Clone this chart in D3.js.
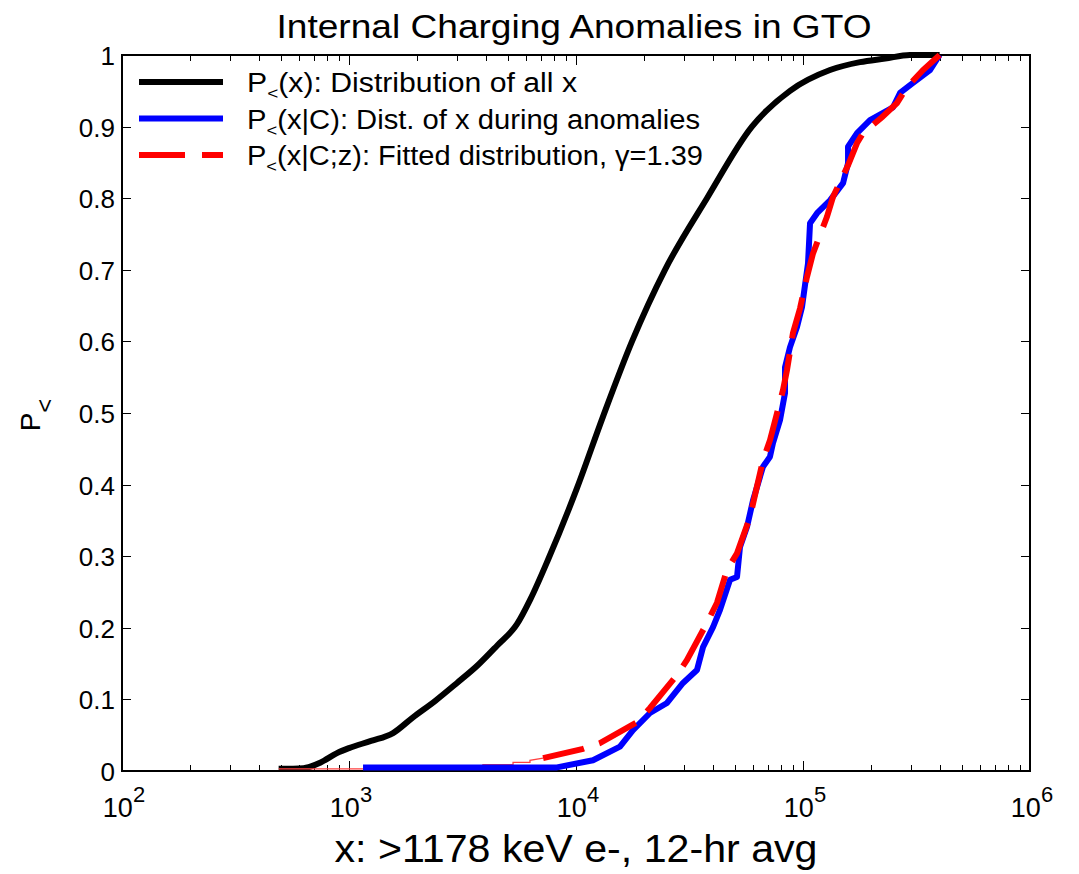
<!DOCTYPE html>
<html lang="en">
<head>
<meta charset="UTF-8">
<title>Internal Charging Anomalies in GTO</title>
<script src="https://d3js.org/d3.v7.min.js"></script>
<style>
    body{
        margin: 0;
        background: #fff;
        font-family: Arial, "Liberation Sans", sans-serif;
    }
    svg{
        display: block;
    }
</style>
</head>
<body>
<svg></svg>
<script>
    // P<(x): distribution of all x
    const allX = [490, 630, 750, 885, 1000, 1250, 1563, 1914, 2400, 2992, 3700, 4487, 5495, 6300, 7530, 10100,
        13150, 17650, 24660, 37760, 59570, 87650, 131500, 178200, 230000, 295800, 400000];
    const allP = [0.003, 0.004, 0.012, 0.025, 0.032, 0.042, 0.053, 0.075, 0.098, 0.123, 0.148, 0.175, 0.205, 0.24, 0.295, 0.395,
        0.495, 0.6, 0.7, 0.8, 0.9, 0.95, 0.979, 0.99, 0.995, 1.0, 1.0];

    // P<(x|C): distribution during anomalies (blue)
    const anomX = [1153, 8247, 11880, 15620, 17830, 21180, 25180, 29610, 34120, 36270, 40140, 43100, 47690, 51200,
        52780, 56680, 60220, 66650, 71540, 73740, 79190, 83330, 83330, 87650, 94100, 99000, 105200, 107400, 115300,
        131500, 150100, 157900, 157900, 173000, 197300, 249200, 267500, 305200, 362600, 400000];
    const anomP = [0.005, 0.005, 0.015, 0.034, 0.057, 0.081, 0.095, 0.123, 0.141, 0.173, 0.201, 0.225, 0.267, 0.271,
        0.313, 0.341, 0.378, 0.425, 0.439, 0.458, 0.49, 0.528, 0.564, 0.592, 0.62, 0.648, 0.709, 0.765, 0.779,
        0.797, 0.821, 0.849, 0.872, 0.891, 0.909, 0.927, 0.947, 0.961, 0.979, 1.0];

    // P<(x|C;z): fitted distribution (red dashed), plus its thin low tail
    const fitX = [7161, 10740, 12760, 18560, 21180, 27860, 30830, 37770, 41800, 46270, 51200, 58420, 66650, 71540,
        81640, 85020, 90340, 97000, 104100, 110700, 127500, 135600, 157900, 173000, 183800, 222800, 259500, 287200,
        337800, 400000];
    const fitP = [0.018, 0.031, 0.039, 0.068, 0.088, 0.134, 0.155, 0.207, 0.235, 0.281, 0.304, 0.355, 0.434, 0.462,
        0.532, 0.56, 0.612, 0.646, 0.69, 0.723, 0.774, 0.802, 0.846, 0.877, 0.891, 0.913, 0.933, 0.955, 0.979, 1.0];
    const lowX = [490, 2390, 2390, 3890, 3890, 5280, 5280, 6270, 6270, 7161];
    const lowP = [0.003, 0.003, 0.006, 0.006, 0.009, 0.009, 0.012, 0.012, 0.015, 0.018];

    const xDecades = [1e2, 1e3, 1e4, 1e5, 1e6];
    const xDecadeExp = ['2', '3', '4', '5', '6'];
    const yTicks = [0, 0.1, 0.2, 0.3, 0.4, 0.5, 0.6, 0.7, 0.8, 0.9, 1];
    const yTickLabels = ['0', '0.1', '0.2', '0.3', '0.4', '0.5', '0.6', '0.7', '0.8', '0.9', '1'];

    const legendLabels = [
        ['(x): Distribution of all x'],
        ['(x|C): Dist. of x during anomalies'],
        ['(x|C;z): Fitted distribution, ', 'γ', '=1.39']
    ];

    const width = 1079, height = 874;
    const margin = {top: 55, right: 49, bottom: 103, left: 122};

    const svg = d3.select('svg')
        .attr('width', width)
        .attr('height', height);

    const x = d3.scaleLog().domain([1e2, 1e6]).range([margin.left, width - margin.right]);
    const y = d3.scaleLinear().domain([0, 1]).range([height - margin.bottom, margin.top]);

    /* minor ticks 2..9 in each decade */
    const xMinor = [];
    xDecades.slice(0, -1).forEach(d => {
        for(let m = 2; m <= 9; m++) xMinor.push(d * m);
    });

    function tickAxis(axis, g){
        g.call(axis);
        g.select('.domain').remove();
        g.selectAll('.tick line').attr('stroke', '#000').attr('shape-rendering', 'crispEdges');
        g.selectAll('.tick text').remove();
    }

    const bottomY = height - margin.bottom;
    const rightX = width - margin.right;

    /* ticks on all four sides, pointing in */
    tickAxis(d3.axisBottom(x).tickValues(xMinor).tickSize(-6), svg.append('g').attr('transform', `translate(0,${bottomY})`));
    tickAxis(d3.axisBottom(x).tickValues(xDecades).tickSize(-10), svg.append('g').attr('transform', `translate(0,${bottomY})`));
    tickAxis(d3.axisTop(x).tickValues(xMinor).tickSize(-6), svg.append('g').attr('transform', `translate(0,${margin.top})`));
    tickAxis(d3.axisTop(x).tickValues(xDecades).tickSize(-10), svg.append('g').attr('transform', `translate(0,${margin.top})`));
    tickAxis(d3.axisLeft(y).tickValues(yTicks).tickSize(-9), svg.append('g').attr('transform', `translate(${margin.left},0)`));
    tickAxis(d3.axisRight(y).tickValues(yTicks).tickSize(-9), svg.append('g').attr('transform', `translate(${rightX},0)`));

    svg.append('rect')
        .attr('x', margin.left).attr('y', margin.top)
        .attr('width', rightX - margin.left).attr('height', bottomY - margin.top)
        .attr('fill', 'none').attr('stroke', '#000').attr('stroke-width', 1.2)
        .attr('shape-rendering', 'crispEdges');

    /* y tick labels */
    svg.append('g').selectAll('text')
        .data(yTicks)
        .join('text')
        .attr('x', margin.left - 7)
        .attr('y', d => y(d) + 10)
        .attr('text-anchor', 'end')
        .attr('font-size', 26)
        .text((d, i) => yTickLabels[i]);

    /* x tick labels: 10^n */
    const xl = svg.append('g').selectAll('text')
        .data(xDecades)
        .join('text')
        .attr('x', d => x(d) + 2)
        .attr('y', bottomY + 46)
        .attr('text-anchor', 'middle')
        .attr('font-size', 27);
    xl.append('tspan').text('10');
    xl.append('tspan').attr('dy', -15).attr('font-size', 22).text((d, i) => xDecadeExp[i]);

    /* curves */
    const line = d3.line().x(d => x(d[0])).y(d => y(d[1]));

    svg.append('path')
        .datum(d3.zip(allX, allP))
        .attr('d', line.curve(d3.curveMonotoneX))
        .attr('fill', 'none').attr('stroke', '#000').attr('stroke-width', 6);

    svg.append('path')
        .datum(d3.zip(lowX, lowP))
        .attr('d', line.curve(d3.curveLinear))
        .attr('fill', 'none').attr('stroke', '#ff4040').attr('stroke-width', 1.3);

    svg.append('path')
        .datum(d3.zip(anomX, anomP))
        .attr('d', line.curve(d3.curveLinear))
        .attr('fill', 'none').attr('stroke', '#0000ff').attr('stroke-width', 6)
        .attr('stroke-linejoin', 'round');

    svg.append('path')
        .datum(d3.zip(fitX, fitP))
        .attr('d', line.curve(d3.curveLinear))
        .attr('fill', 'none').attr('stroke', '#ff0000').attr('stroke-width', 6)
        .attr('stroke-dasharray', '42,16');

    /* legend */
    const legendColors = ['#000', '#0000ff', '#ff0000'];
    const legendDash = [null, null, '46,17'];
    const legendWidths = [330, 453, 456];
    const legendRows = [82, 118.5, 155];

    legendLabels.forEach((parts, i) => {
        const g = svg.append('g');
        g.append('line')
            .attr('x1', 139).attr('x2', 223)
            .attr('y1', legendRows[i]).attr('y2', legendRows[i])
            .attr('stroke', legendColors[i]).attr('stroke-width', 6)
            .attr('stroke-dasharray', legendDash[i]);
        const t = g.append('text')
            .attr('x', 247)
            .attr('y', legendRows[i] + 10)
            .attr('font-size', 27)
            .attr('textLength', legendWidths[i])
            .attr('lengthAdjust', 'spacingAndGlyphs');
        t.append('tspan').text('P');
        t.append('tspan').attr('dy', 7).attr('font-size', 17).text('<');
        parts.forEach((p, j) => {
            const s = t.append('tspan').text(p);
            if(j === 0) s.attr('dy', -7);
        });
    });

    /* title and axis labels */
    svg.append('text')
        .attr('x', 574).attr('y', 38)
        .attr('text-anchor', 'middle')
        .attr('font-size', 34)
        .attr('textLength', 595).attr('lengthAdjust', 'spacingAndGlyphs')
        .text('Internal Charging Anomalies in GTO');

    svg.append('text')
        .attr('x', 576).attr('y', 862)
        .attr('text-anchor', 'middle')
        .attr('font-size', 38)
        .attr('textLength', 483).attr('lengthAdjust', 'spacingAndGlyphs')
        .text('x: >1178 keV e-, 12-hr avg');

    const yl = svg.append('text')
        .attr('transform', 'translate(40,415) rotate(-90)')
        .attr('text-anchor', 'middle')
        .attr('font-size', 28);
    yl.append('tspan').text('P');
    yl.append('tspan').attr('dy', 13).attr('font-size', 24).text('<');
</script>
</body>
</html>
